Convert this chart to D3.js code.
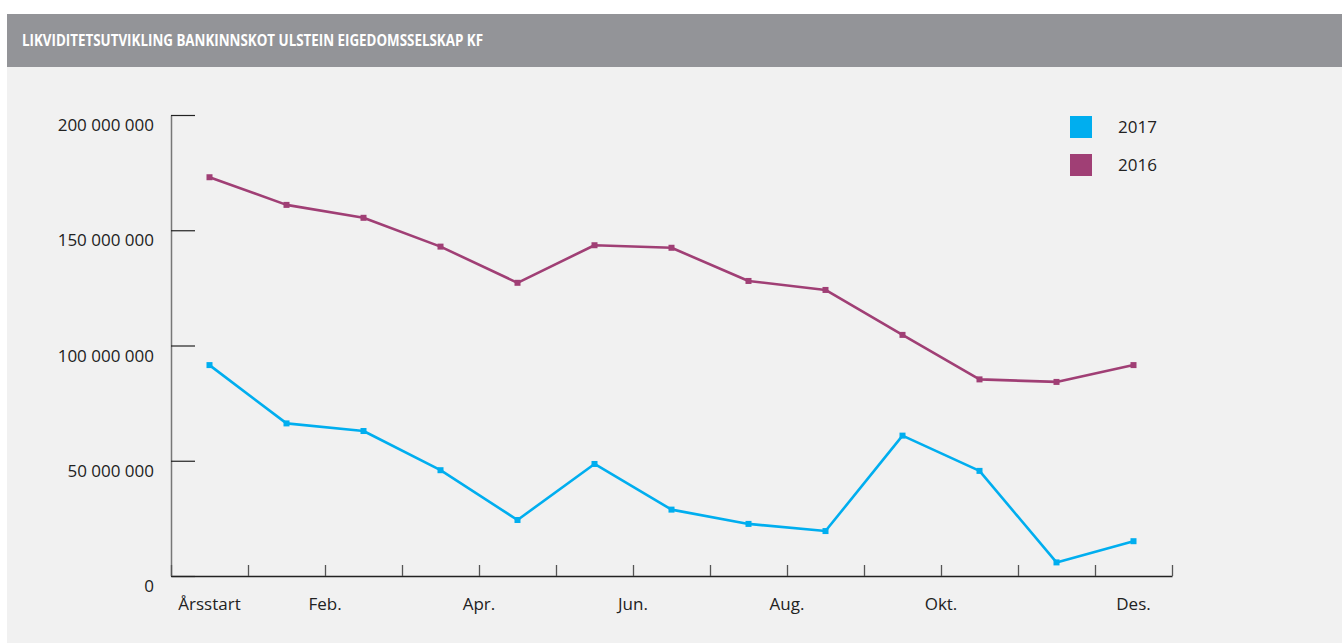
<!DOCTYPE html>
<html lang="no">
<head>
<meta charset="utf-8">
<title>Likviditetsutvikling</title>
<script src="https://cdn.jsdelivr.net/npm/d3@7"></script>
<style>
  html, body { margin: 0; padding: 0; background: #fff; }
  svg { display: block; font-family: "Open Sans", "Noto Sans", sans-serif; }
  .lbl { font-size: 17px; fill: #222; }
</style>
</head>
<body>
<svg id="chart" width="1342" height="643"></svg>
<script>
// categories along the x axis
var categories = ["Årsstart", "Jan.", "Feb.", "Mar.", "Apr.", "Mai", "Jun.",
                  "Jul.", "Aug.", "Sep.", "Okt.", "Nov.", "Des."];
// labels that are shown under the axis
var shownLabels = ["Årsstart", "Feb.", "Apr.", "Jun.", "Aug.", "Okt.", "Des."];
// series values (NOK)
var values2017 = [91500000, 66200000, 62900000, 45900000, 24300000, 48600000, 28800000,
                  22600000, 19500000, 60900000, 45600000, 5900000, 15100000];
var values2016 = [173000000, 161000000, 155400000, 142900000, 127200000, 143500000, 142400000,
                  128000000, 124100000, 104600000, 85300000, 84200000, 91500000];
var yTicks = [0, 50000000, 100000000, 150000000, 200000000];
var seriesNames = ["2017", "2016"];

var title = "LIKVIDITETSUTVIKLING BANKINNSKOT ULSTEIN EIGEDOMSSELSKAP KF";
var colors = { "2017": "#00aeef", "2016": "#a03f75" };

var svg = d3.select("#chart");

// background panels
svg.append("rect").attr("x", 7).attr("y", 67).attr("width", 1335).attr("height", 576).attr("fill", "#f1f1f1");
svg.append("rect").attr("x", 7).attr("y", 14).attr("width", 1335).attr("height", 53).attr("fill", "#939498");
svg.append("text")
    .attr("x", 22).attr("y", 45.5)
    .attr("fill", "#fff")
    .attr("font-weight", "bold")
    .attr("font-size", "15.5px")
    .attr("textLength", 461)
    .attr("lengthAdjust", "spacingAndGlyphs")
    .text(title);

var n = categories.length;
var x = d3.scaleLinear().domain([0, n]).range([171, 1172]);
var y = d3.scaleLinear().domain([0, 200000000]).range([576, 115]);

var fmt = d3.formatLocale({ decimal: ",", thousands: " ", grouping: [3], currency: ["", " kr"] }).format(",");

// y axis
var yAxis = svg.append("g")
    .attr("transform", "translate(171,0)")
    .call(d3.axisRight(y).tickValues(yTicks).tickSize(24).tickSizeOuter(0).tickFormat(""));
yAxis.select(".domain").attr("stroke", "#777").attr("stroke-width", 1.5);
yAxis.selectAll(".tick line").attr("stroke", "#222").attr("stroke-width", 1.2);

svg.append("g").selectAll("text")
    .data(yTicks)
    .join("text")
    .attr("class", "lbl")
    .attr("x", 154)
    .attr("y", function(d) { return y(d) + 16; })
    .attr("text-anchor", "end")
    .text(function(d) { return fmt(d); });

// x axis, ticks pointing up at the category edges
var xAxis = svg.append("g")
    .attr("transform", "translate(0,576)")
    .call(d3.axisBottom(x).tickValues(d3.range(n + 1)).tickSizeInner(-11).tickSizeOuter(0).tickFormat(""));
xAxis.select(".domain").attr("stroke", "#222").attr("stroke-width", 1.5);
xAxis.selectAll(".tick line").attr("stroke", "#555").attr("stroke-width", 1.3);

// first and last label sit on the category centre, the rest on the left edge
function labelX(name) {
  var i = categories.indexOf(name);
  return (i === 0 || i === n - 1) ? x(i + 0.5) : x(i);
}
svg.append("g").selectAll("text")
    .data(shownLabels)
    .join("text")
    .attr("class", "lbl")
    .attr("x", labelX)
    .attr("y", 610)
    .attr("text-anchor", "middle")
    .text(function(d) { return d; });

// lines + square markers
var line = d3.line()
    .x(function(d, i) { return x(i + 0.5); })
    .y(function(d) { return y(d); });

var series = [
  { name: "2016", values: values2016 },
  { name: "2017", values: values2017 }
];

series.forEach(function(s) {
  svg.append("path")
      .attr("d", line(s.values))
      .attr("fill", "none")
      .attr("stroke", colors[s.name])
      .attr("stroke-width", 2.6)
      .attr("stroke-linejoin", "round");
  svg.append("g").selectAll("rect")
      .data(s.values)
      .join("rect")
      .attr("x", function(d, i) { return x(i + 0.5) - 3; })
      .attr("y", function(d) { return y(d) - 3; })
      .attr("width", 6)
      .attr("height", 6)
      .attr("fill", colors[s.name]);
});

// legend
var legend = svg.append("g").selectAll("g")
    .data(seriesNames)
    .join("g")
    .attr("transform", function(d, i) { return "translate(1070," + (116 + i * 38) + ")"; });
legend.append("rect")
    .attr("width", 22).attr("height", 22)
    .attr("fill", function(d) { return colors[d]; });
legend.append("text")
    .attr("class", "lbl")
    .attr("x", 48).attr("y", 17)
    .text(function(d) { return d; });
</script>
</body>
</html>
